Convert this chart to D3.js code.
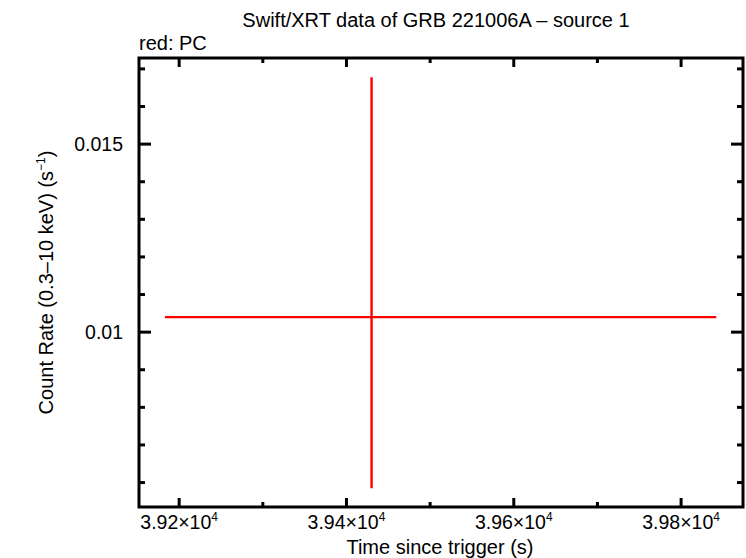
<!DOCTYPE html>
<html>
<head>
<meta charset="utf-8">
<script src="https://cdn.jsdelivr.net/npm/d3@7"></script>
<style>
  body { margin: 0; background: #fff; }
  text { font-family: "Liberation Sans", Arial, sans-serif; fill: #000; }
</style>
</head>
<body>
<svg id="chart"></svg>
<script>
// one PC-mode bin
const times = [39430];
const timeLo = [39183];
const timeHi = [39842];
const rates = [0.0104];
const rateLo = [0.00585];
const rateHi = [0.01678];

const xMajor = [39200, 39400, 39600, 39800];
const xMajorLabels = ["3.92", "3.94", "3.96", "3.98"];
const yMajor = [0.01, 0.015];
const yMajorLabels = ["0.01", "0.015"];

const width = 746;
const height = 558;
const margin = {top: 58, right: 3, bottom: 51, left: 139};

const svg = d3.select("#chart")
    .attr("width", width)
    .attr("height", height)
    .attr("viewBox", [0, 0, width, height]);

const x = d3.scaleLinear()
    .domain([39152, 39874])
    .range([margin.left, width - margin.right]);

const y = d3.scaleLinear()
    .domain([0.00535, 0.01729])
    .range([height - margin.bottom, margin.top]);

const xMinor = d3.range(39200, 39874, 100).filter(v => !xMajor.includes(v));
const yMinor = d3.range(6, 18).map(v => v / 1000).filter(v => !yMajor.some(m => Math.abs(m - v) < 1e-9));

const ticks = svg.append("g")
    .attr("stroke", "#000")
    .attr("stroke-width", 3);

// x ticks bottom and top
[[xMajor, 9], [xMinor, 5]].forEach(([vals, len]) => {
    vals.forEach(v => {
        ticks.append("line")
            .attr("x1", x(v)).attr("x2", x(v))
            .attr("y1", y.range()[0]).attr("y2", y.range()[0] - len);
        ticks.append("line")
            .attr("x1", x(v)).attr("x2", x(v))
            .attr("y1", y.range()[1]).attr("y2", y.range()[1] + len);
    });
});
// y ticks left and right
[[yMajor, 12], [yMinor, 6]].forEach(([vals, len]) => {
    vals.forEach(v => {
        ticks.append("line")
            .attr("y1", y(v)).attr("y2", y(v))
            .attr("x1", x.range()[0]).attr("x2", x.range()[0] + len);
        ticks.append("line")
            .attr("y1", y(v)).attr("y2", y(v))
            .attr("x1", x.range()[1]).attr("x2", x.range()[1] - len);
    });
});

// frame
svg.append("rect")
    .attr("x", margin.left)
    .attr("y", margin.top)
    .attr("width", width - margin.left - margin.right)
    .attr("height", height - margin.top - margin.bottom)
    .attr("fill", "none")
    .attr("stroke", "#000")
    .attr("stroke-width", 3);

// x tick labels
const xl = svg.append("g").selectAll("text")
    .data(xMajor)
    .join("text")
    .attr("x", d => x(d))
    .attr("y", 529)
    .attr("text-anchor", "middle")
    .style("font-size", "19.5px");
xl.append("tspan").text((d, i) => xMajorLabels[i] + "\u00d710");
xl.append("tspan").attr("dy", -8).style("font-size", "12px").text("4");

// y tick labels
svg.append("g").selectAll("text")
    .data(yMajor)
    .join("text")
    .attr("x", 123)
    .attr("y", d => y(d) + 7)
    .attr("text-anchor", "end")
    .style("font-size", "19.5px")
    .text((d, i) => yMajorLabels[i]);

// data: error bars
const data = times.map((t, i) => ({t, lo: timeLo[i], hi: timeHi[i], r: rates[i], rlo: rateLo[i], rhi: rateHi[i]}));
const pts = svg.append("g").attr("stroke", "#ff0000").attr("stroke-width", 2.4);
pts.selectAll(".xerr").data(data).join("line")
    .attr("x1", d => x(d.lo)).attr("x2", d => x(d.hi))
    .attr("y1", d => y(d.r)).attr("y2", d => y(d.r));
pts.selectAll(".yerr").data(data).join("line")
    .attr("x1", d => x(d.t)).attr("x2", d => x(d.t))
    .attr("y1", d => y(d.rlo)).attr("y2", d => y(d.rhi));

// titles
svg.append("text")
    .attr("x", 436).attr("y", 27)
    .attr("text-anchor", "middle")
    .style("font-size", "20px")
    .text("Swift/XRT data of GRB 221006A \u2013 source 1");

svg.append("text")
    .attr("x", margin.left).attr("y", 50)
    .style("font-size", "20px")
    .text("red: PC");

svg.append("text")
    .attr("x", 440).attr("y", 554)
    .attr("text-anchor", "middle")
    .style("font-size", "20px")
    .text("Time since trigger (s)");

const yl = svg.append("text")
    .attr("transform", `translate(53,${(margin.top + height - margin.bottom) / 2}) rotate(-90)`)
    .attr("text-anchor", "middle")
    .style("font-size", "20px");
yl.append("tspan").text("Count Rate (0.3\u201310 keV) (s");
yl.append("tspan").attr("dy", -8).style("font-size", "12px").text("\u22121");
yl.append("tspan").attr("dy", 8).text(")");
</script>
</body>
</html>
